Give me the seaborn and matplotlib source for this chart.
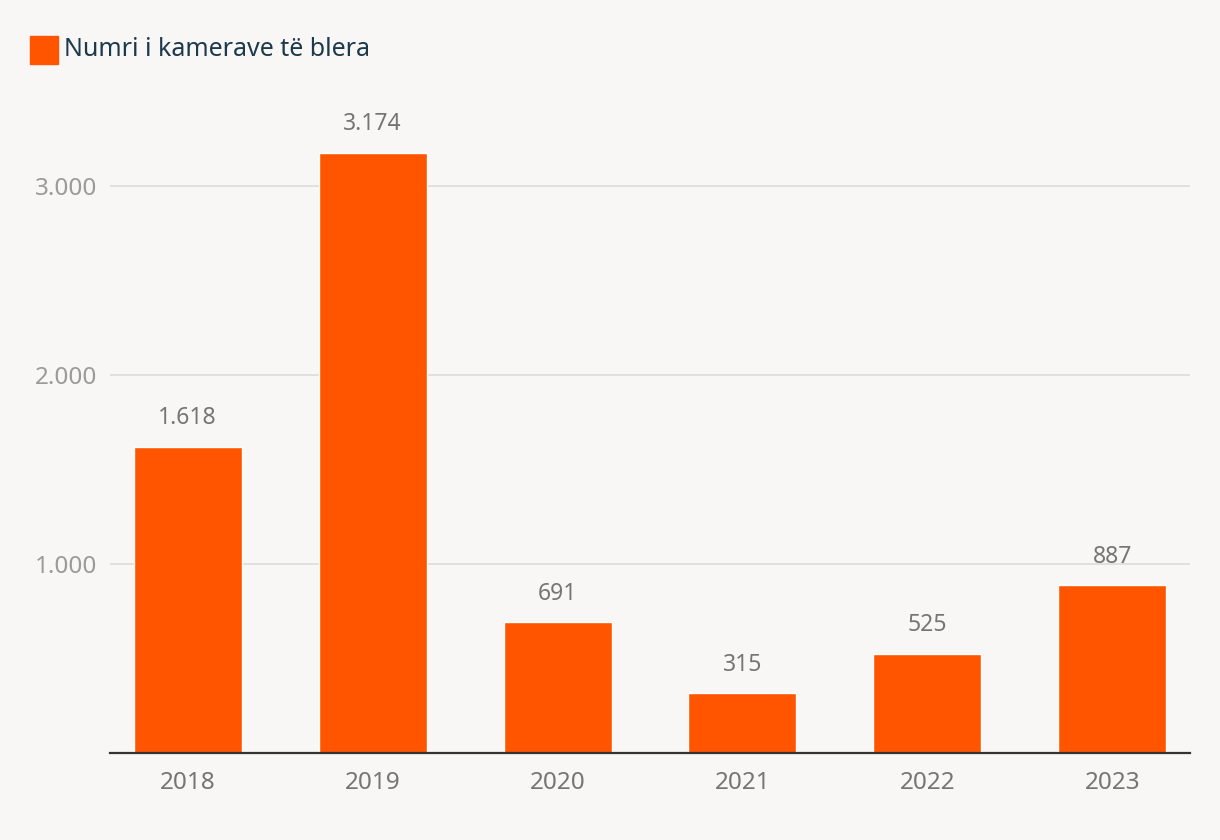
import matplotlib
matplotlib.use("Agg")
import matplotlib.pyplot as plt
import matplotlib.patches as mpatches
import seaborn as sns
import pandas as pd

# Data
years = ["2018", "2019", "2020", "2021", "2022", "2023"]
cameras = [1618, 3174, 691, 315, 525, 887]
yticks = [1000, 2000, 3000]
series_name = "Numri i kamerave të blera"

bg = "#f8f7f5"
bar_color = "#ff5500"

sns.set_theme(style="white")
plt.rcParams["font.family"] = ["Noto Sans", "DejaVu Sans"]

df = pd.DataFrame({"year": years, "count": cameras})

fig = plt.figure(figsize=(12.2, 8.4), dpi=100, facecolor=bg)
ax = fig.add_axes([0.0902, 0.1036, 0.8852, 0.7654])
ax.set_facecolor(bg)

sns.barplot(data=df, x="year", y="count", color=bar_color, width=0.584,
            saturation=1, ax=ax, zorder=3)

ax.set_xlim(-0.42, 5.42)
ax.set_ylim(0, 3400)
ax.set_yticks(yticks)
ax.set_yticklabels([f"{v:,}".replace(",", ".") for v in yticks])
ax.yaxis.grid(True, color="#dedede", linewidth=1.3, zorder=0)
ax.set_xlabel("")
ax.set_ylabel("")

for s in ["top", "right", "left"]:
    ax.spines[s].set_visible(False)
ax.spines["bottom"].set_color("#333333")
ax.spines["bottom"].set_linewidth(1.6)
ax.spines["bottom"].set_zorder(4)

ax.tick_params(axis="y", length=0, pad=9, labelsize=17.5, labelcolor="#9a9a9a")
ax.tick_params(axis="x", length=0, pad=13, labelsize=17.5, labelcolor="#757575")

# value labels
for i, v in enumerate(cameras):
    ax.annotate(f"{v:,}".replace(",", "."), (i, v), xytext=(0, 12),
                textcoords="offset points", ha="center", va="bottom",
                fontsize=16.5, color="#757575")

# legend at top left
fig.patches.append(mpatches.Rectangle((30 / 1220, 1 - 64 / 840), 28 / 1220, 28 / 840,
                                      transform=fig.transFigure, color=bar_color))
fig.text(64 / 1220, 1 - 49 / 840, series_name, fontsize=18, color="#1c3a4c",
         va="center", ha="left")

fig.savefig("out.png", dpi=100, facecolor=bg)
